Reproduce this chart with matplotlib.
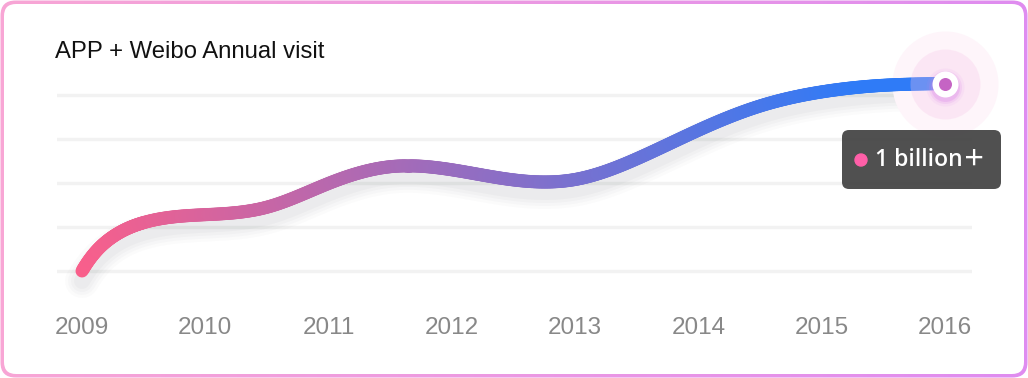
# Grafica de visitas anuales con linea suave en degradado
import numpy as np
import matplotlib.pyplot as plt
from matplotlib.collections import LineCollection
from matplotlib.patches import FancyBboxPatch, Circle
from matplotlib.transforms import offset_copy
from matplotlib.colors import to_rgb

# Datos (cada medio año, y un punto extra al inicio)
anios = [2009, 2010, 2011, 2012, 2013, 2014, 2015, 2016]
etiquetas_anios = ["2009", "2010", "2011", "2012", "2013", "2014", "2015", "2016"]
puntos_x = [2009, 2009.25, 2009.5, 2010, 2010.5, 2011, 2011.5, 2012, 2012.5,
            2013, 2013.5, 2014, 2014.5, 2015, 2015.5, 2016]
visitas = [0.0, 0.78, 1.10, 1.28, 1.45, 1.99, 2.37, 2.30, 2.07,
           2.08, 2.55, 3.20, 3.75, 4.07, 4.22, 4.26]
niveles_grid = [0, 1, 2, 3, 4]
titulo = "APP + Weibo Annual visit"
texto_tooltip = "1 billion＋"

PX = 0.72  # 1 px en puntos (dpi 100)


# Spline cubico (pendiente fija al inicio, natural al final) para la linea suave
def curva_suave(x, y, pendiente_ini=4.8, pasos=40):
    x = np.asarray(x, float)
    y = np.asarray(y, float)
    n = len(x)
    h = np.diff(x)
    A = np.zeros((n, n))
    b = np.zeros(n)
    A[0, 0] = 2 * h[0]
    A[0, 1] = h[0]
    b[0] = 6 * ((y[1] - y[0]) / h[0] - pendiente_ini)
    A[-1, -1] = 1
    for i in range(1, n - 1):
        A[i, i - 1] = h[i - 1]
        A[i, i] = 2 * (h[i - 1] + h[i])
        A[i, i + 1] = h[i]
        b[i] = 6 * ((y[i + 1] - y[i]) / h[i] - (y[i] - y[i - 1]) / h[i - 1])
    M = np.linalg.solve(A, b)
    xs, ys = [], []
    for i in range(n - 1):
        t = np.linspace(x[i], x[i + 1], pasos, endpoint=False)
        a = x[i + 1] - t
        c = t - x[i]
        s = (M[i] * a**3 + M[i + 1] * c**3) / (6 * h[i]) \
            + (y[i] / h[i] - M[i] * h[i] / 6) * a + (y[i + 1] / h[i] - M[i + 1] * h[i] / 6) * c
        xs.append(t)
        ys.append(s)
    xs.append([x[-1]])
    ys.append([y[-1]])
    return np.concatenate(xs), np.concatenate(ys)


fig = plt.figure(figsize=(10.28, 3.78), dpi=100)
fig.patch.set_facecolor("white")

# Fondo: borde redondeado con degradado rosa -> violeta
bg = fig.add_axes([0, 0, 1, 1], zorder=0)
bg.set_xlim(0, 1028)
bg.set_ylim(378, 0)
bg.axis("off")
c_izq = np.array(to_rgb("#f8a6d5"))
c_der = np.array(to_rgb("#df8cf0"))
f = np.linspace(0, 1, 256)
grad = (c_izq[None, :] * (1 - f[:, None]) + c_der[None, :] * f[:, None])[None, :, :]
img = bg.imshow(grad, extent=(0, 1028, 378, 0), aspect="auto")
marco = FancyBboxPatch((0.5, 0.5), 1027, 377, boxstyle="round,pad=0,rounding_size=15",
                       fc="none", ec="none")
bg.add_patch(marco)
img.set_clip_path(marco)
bg.add_patch(FancyBboxPatch((4, 4), 1020, 370, boxstyle="round,pad=0,rounding_size=12",
                            fc="white", ec="none"))
bg.text(55, 52, titulo, fontsize=17.2, color="#111111", va="center", ha="left",
        family="Liberation Sans")

# Eje principal
ax = fig.add_axes([57 / 1028, 78 / 378, 915 / 1028, 240 / 378], zorder=1)
ax.set_facecolor("none")
ax.set_xlim(2008.797, 2016.219)
ax.set_ylim(-0.659, 4.795)
for s in ax.spines.values():
    s.set_visible(False)
ax.set_yticks(niveles_grid)
ax.set_yticklabels([])
ax.yaxis.grid(True, color="#f2f2f2", lw=2.4)
ax.set_xticks(anios)
ax.set_xticklabels(etiquetas_anios, family="Liberation Sans")
ax.tick_params(axis="x", length=0, pad=12, labelsize=17.5, labelcolor="#888888")
ax.tick_params(axis="y", length=0)
ax.set_axisbelow(True)

xs, ys = curva_suave(puntos_x, visitas)

# Sombra difusa debajo de la linea
for w, a in [(34, 0.018), (28, 0.022), (22, 0.026), (16, 0.03)]:
    ax.plot(xs, ys, color="#404656", lw=w * PX, alpha=a, solid_capstyle="round",
            transform=offset_copy(ax.transData, fig=fig, x=0, y=-10, units="dots"), zorder=2)

# Halo exterior (debajo de la linea)
ax.plot(puntos_x[-1], visitas[-1], "o", ms=106 * PX, color="#fef5fa", mec="none",
        clip_on=False, zorder=2.5)

# Linea con degradado
c0 = np.array(to_rgb("#f95f8b"))
c1 = np.array(to_rgb("#2f7bf7"))
fr = np.clip((xs - 2009) / (2015.3 - 2009), 0, 1)
cols = c0[None, :] * (1 - fr[:, None]) + c1[None, :] * fr[:, None]
pts = np.array([xs, ys]).T.reshape(-1, 1, 2)
segs = np.concatenate([pts[:-1], pts[1:]], axis=1)
lc = LineCollection(segs, colors=cols[:-1], linewidths=13 * PX, capstyle="round", zorder=3)
ax.add_collection(lc)

# Marcador final
ax.plot(puntos_x[-1], visitas[-1], "o", ms=70 * PX, color="#f7c6e8", alpha=0.3, mec="none",
        clip_on=False, zorder=4)
glow = offset_copy(ax.transData, fig=fig, x=0, y=-3, units="dots")
for ms, a in [(38, 0.08), (33, 0.15), (29, 0.25)]:
    ax.plot(puntos_x[-1], visitas[-1], "o", ms=ms * PX, color="#d77ee9", alpha=a, mec="none",
            clip_on=False, zorder=4, transform=glow)
ax.plot(puntos_x[-1], visitas[-1], "o", ms=26 * PX, color="white", mec="none",
        clip_on=False, zorder=5)
ax.plot(puntos_x[-1], visitas[-1], "o", ms=13 * PX, color="#c564c4", mec="none",
        clip_on=False, zorder=6)

# Tooltip
ov = fig.add_axes([0, 0, 1, 1], zorder=2)
ov.set_xlim(0, 1028)
ov.set_ylim(378, 0)
ov.axis("off")
ov.add_patch(FancyBboxPatch((842, 130), 159, 59, boxstyle="round,pad=0,rounding_size=7",
                            fc="#3d3d3d", ec="none", alpha=0.9))
ov.add_patch(Circle((861, 160), 6, color="#ff5fa8"))
ov.text(875, 160, texto_tooltip, color="white", fontsize=16.5, va="center", ha="left",
        fontweight="semibold", family=["Open Sans", "Noto Sans CJK SC"])

plt.savefig("out.png", dpi=100)
